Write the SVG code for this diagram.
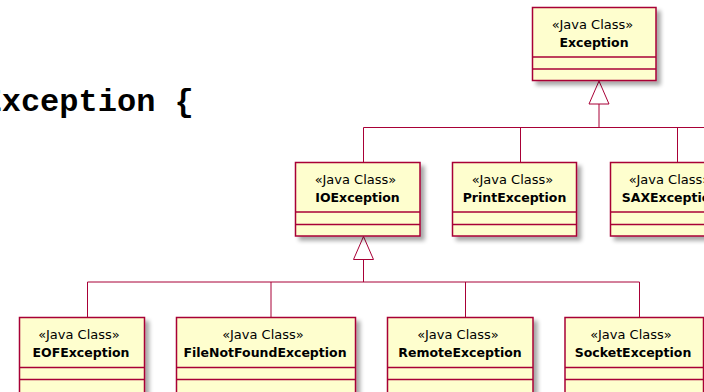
<svg xmlns="http://www.w3.org/2000/svg" width="704" height="392" viewBox="0 0 704 392">
<style>
.box{fill:#FEFECE;stroke:#A80036;stroke-width:1.5;filter:url(#sh)}
.sep{stroke:#A80036;stroke-width:1.5}
.st{font-family:"DejaVu Sans",Verdana,sans-serif;font-size:13px;fill:#000;text-anchor:middle}
.nm{font-family:"DejaVu Sans",Verdana,sans-serif;font-size:12.5px;font-weight:bold;fill:#000;text-anchor:middle}
.ln{stroke:#A80036;stroke-width:1;fill:none}
.tri{fill:#FFFFFF;stroke:#A80036;stroke-width:1}
.code{font-family:"Courier New","Liberation Mono",monospace;font-size:32px;font-weight:bold;fill:#000}
</style>
<defs>
<filter id="sh" x="-20%" y="-20%" width="140%" height="140%">
<feGaussianBlur in="SourceAlpha" stdDeviation="2"/>
<feOffset dx="4" dy="4" result="b"/>
<feComponentTransfer><feFuncA type="linear" slope="0.35"/></feComponentTransfer>
<feMerge><feMergeNode/><feMergeNode in="SourceGraphic"/></feMerge>
</filter>
</defs>
<rect width="704" height="392" fill="#FFFFFF"/>
<text class="code" x="-17.5" y="111">Exception {</text>

<g id="connectors">
<line class="ln" x1="599" y1="104" x2="599" y2="127.5"/>
<line class="ln" x1="363.5" y1="127.5" x2="704" y2="127.5"/>
<line class="ln" x1="363.5" y1="127.5" x2="363.5" y2="162.5"/>
<line class="ln" x1="520.5" y1="127.5" x2="520.5" y2="162.5"/>
<line class="ln" x1="677.5" y1="127.5" x2="677.5" y2="162.5"/>
<polygon class="tri" points="599,81 609,104 589,104"/>
<line class="ln" x1="363.5" y1="259.5" x2="363.5" y2="282"/>
<line class="ln" x1="87.5" y1="282" x2="639.5" y2="282"/>
<line class="ln" x1="87.5" y1="282" x2="87.5" y2="317.5"/>
<line class="ln" x1="271" y1="282" x2="271" y2="317.5"/>
<line class="ln" x1="465.5" y1="282" x2="465.5" y2="317.5"/>
<line class="ln" x1="639.5" y1="282" x2="639.5" y2="317.5"/>
<polygon class="tri" points="363.5,236.5 373.5,259.5 353.5,259.5"/>
</g>

<g id="Exception">
<rect class="box" x="532.5" y="7.5" width="123.5" height="73"/>
<line class="sep" x1="532.5" y1="57" x2="656" y2="57"/>
<line class="sep" x1="532.5" y1="69" x2="656" y2="69"/>
<text class="st" x="592.5" y="28.5">«Java Class»</text>
<text class="nm" x="594" y="46.5">Exception</text>
</g>

<g id="IOException">
<rect class="box" x="295.5" y="162.5" width="124.5" height="73.5"/>
<line class="sep" x1="295.5" y1="212" x2="420" y2="212"/>
<line class="sep" x1="295.5" y1="224.5" x2="420" y2="224.5"/>
<text class="st" x="355.5" y="184">«Java Class»</text>
<text class="nm" x="357.5" y="202">IOException</text>
</g>

<g id="PrintException">
<rect class="box" x="452.5" y="162.5" width="124" height="73.5"/>
<line class="sep" x1="452.5" y1="212" x2="576.5" y2="212"/>
<line class="sep" x1="452.5" y1="224.5" x2="576.5" y2="224.5"/>
<text class="st" x="512.5" y="184">«Java Class»</text>
<text class="nm" x="514.5" y="202">PrintException</text>
</g>

<g id="SAXException">
<rect class="box" x="610.5" y="162.5" width="120" height="73.5"/>
<line class="sep" x1="610.5" y1="212" x2="730.5" y2="212"/>
<line class="sep" x1="610.5" y1="224.5" x2="730.5" y2="224.5"/>
<text class="st" x="669.5" y="184">«Java Class»</text>
<text class="nm" x="670.5" y="202">SAXException</text>
</g>

<g id="EOFException">
<rect class="box" x="19.5" y="317.5" width="125" height="80"/>
<line class="sep" x1="19.5" y1="367.5" x2="144.5" y2="367.5"/>
<line class="sep" x1="19.5" y1="379.5" x2="144.5" y2="379.5"/>
<text class="st" x="79" y="338.5">«Java Class»</text>
<text class="nm" x="81" y="356.5">EOFException</text>
</g>

<g id="FileNotFoundException">
<rect class="box" x="176.5" y="317.5" width="179" height="80"/>
<line class="sep" x1="176.5" y1="367.5" x2="355.5" y2="367.5"/>
<line class="sep" x1="176.5" y1="379.5" x2="355.5" y2="379.5"/>
<text class="st" x="263" y="338.5">«Java Class»</text>
<text class="nm" x="265" y="356.5">FileNotFoundException</text>
</g>

<g id="RemoteException">
<rect class="box" x="387.5" y="317.5" width="145.5" height="80"/>
<line class="sep" x1="387.5" y1="367.5" x2="533" y2="367.5"/>
<line class="sep" x1="387.5" y1="379.5" x2="533" y2="379.5"/>
<text class="st" x="458" y="338.5">«Java Class»</text>
<text class="nm" x="460" y="356.5">RemoteException</text>
</g>

<g id="SocketException">
<rect class="box" x="565" y="317.5" width="138.5" height="80"/>
<line class="sep" x1="565" y1="367.5" x2="703.5" y2="367.5"/>
<line class="sep" x1="565" y1="379.5" x2="703.5" y2="379.5"/>
<text class="st" x="631" y="338.5">«Java Class»</text>
<text class="nm" x="633" y="356.5">SocketException</text>
</g>
</svg>
